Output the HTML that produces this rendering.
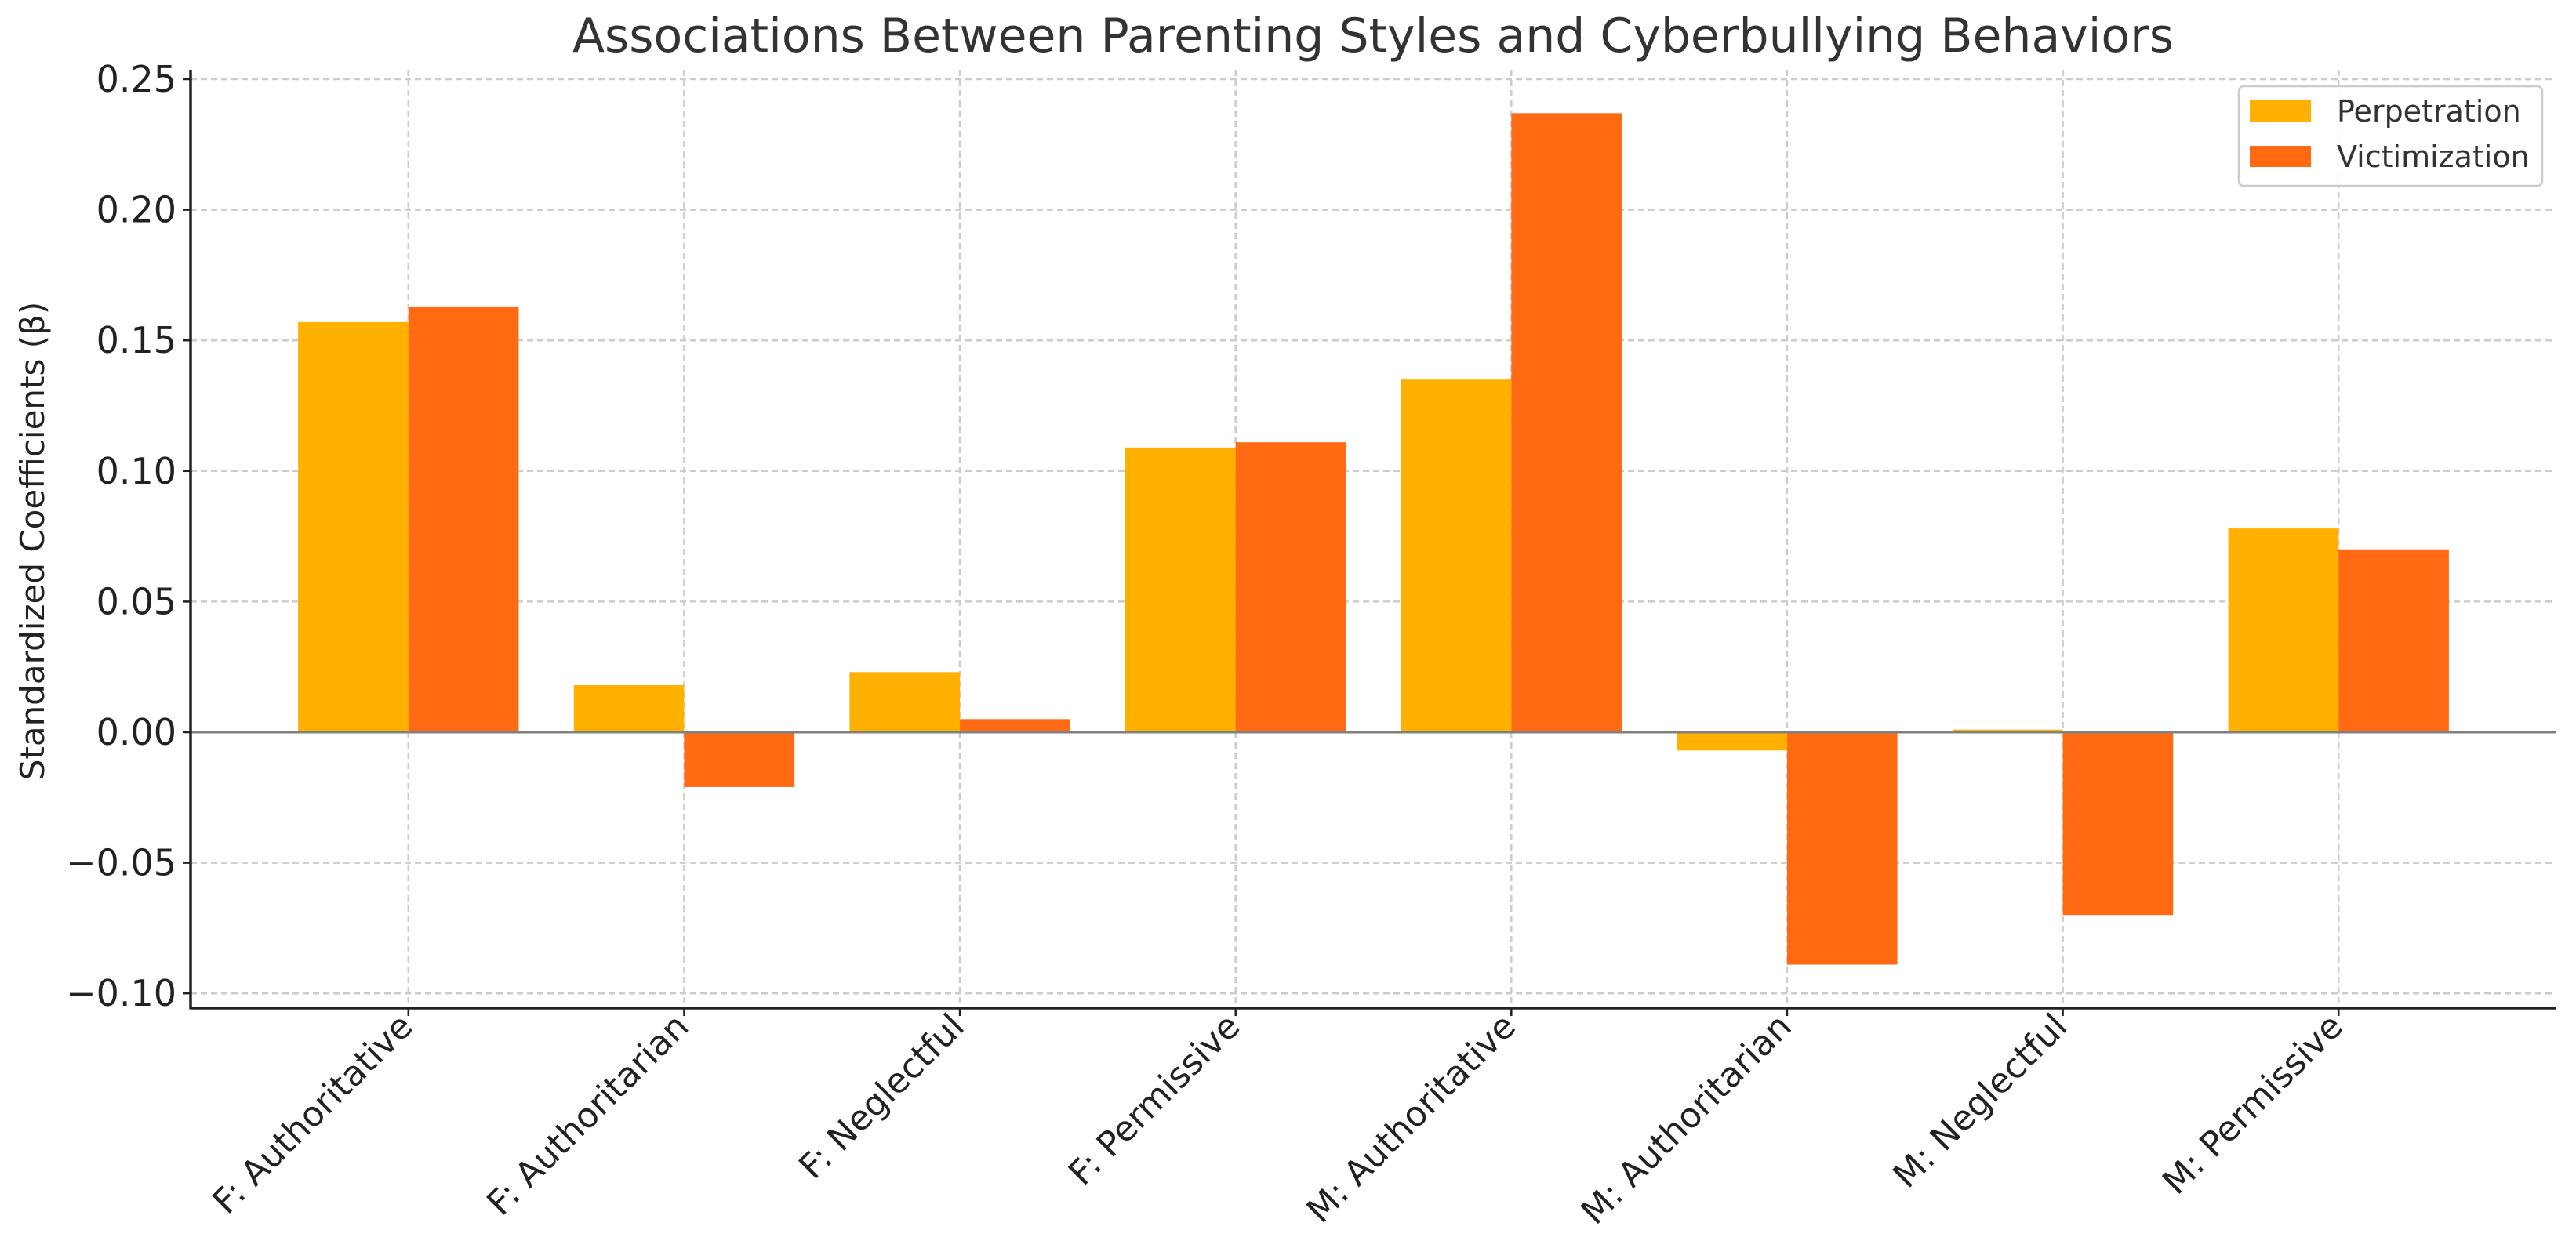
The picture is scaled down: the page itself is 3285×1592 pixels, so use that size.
<!DOCTYPE html>
<html><head><meta charset="utf-8"><style>
html,body{margin:0;padding:0;background:#fff;}
svg{display:block;font-family:"DejaVu Sans","Liberation Sans",sans-serif;}
</style></head>
<body>
<svg id="chart" width="3285" height="1592" viewBox="0 0 3285 1592" xmlns="http://www.w3.org/2000/svg">
<text x="1751" y="66" font-size="60" fill="#333" text-anchor="middle">Associations Between Parenting Styles and Cyberbullying Behaviors</text>
<text transform="translate(56,690) rotate(-90)" font-size="42" fill="#222" text-anchor="middle">Standardized Coefficients (β)</text>
<g id="grid"></g><g id="bars"></g><g id="axes"></g>
<g>
<rect x="2855" y="110" width="387" height="127" rx="6" fill="#fff" fill-opacity="0.85" stroke="#ccc" stroke-width="2.5"/>
<rect x="2869" y="128" width="78" height="27" fill="#FFB000"/>
<text x="2980" y="155" font-size="38" fill="#333">Perpetration</text>
<rect x="2869" y="186" width="78" height="27" fill="#FF6A13"/>
<text x="2980" y="213" font-size="38" fill="#333">Victimization</text>
</g>
</svg>
<script>
const categories = ["F: Authoritative","F: Authoritarian","F: Neglectful","F: Permissive","M: Authoritative","M: Authoritarian","M: Neglectful","M: Permissive"];
const perpetration = [0.157,0.018,0.023,0.109,0.135,-0.007,0.001,0.078];
const victimization = [0.163,-0.021,0.005,0.111,0.237,-0.089,-0.070,0.070];
const yTicks = [-0.10,-0.05,0.00,0.05,0.10,0.15,0.20,0.25];
const yTickLabels = ["\u22120.10","\u22120.05","0.00","0.05","0.10","0.15","0.20","0.25"];

const NS="http://www.w3.org/2000/svg";
const L=243,R=3260,T=89,B=1286;
const xMin=-0.79,xMax=7.79;
const y0px=934, pxPerUnit=166.6/0.05;
function xs(v){return L+(v-xMin)/(xMax-xMin)*(R-L);}
function ys(v){return y0px-v*pxPerUnit;}
function mk(tag,attrs,parent){const e=document.createElementNS(NS,tag);for(const k in attrs)e.setAttribute(k,attrs[k]);parent.appendChild(e);return e;}
const grid=document.getElementById('grid'),bars=document.getElementById('bars'),axes=document.getElementById('axes');

yTicks.forEach((t,i)=>{
  const y=ys(t);
  const g=mk('line',{x1:L,x2:R,y1:y,y2:y,stroke:'#ccc','stroke-width':2.5,'stroke-dasharray':'8,5'},grid);
  
  
  mk('line',{x1:L-10,x2:L,y1:y,y2:y,stroke:'#222','stroke-width':2.5},axes);
  const tx=mk('text',{x:L-18,y:y+16,'font-size':46,fill:'#222','text-anchor':'end'},axes);
  
  
  tx.textContent=yTickLabels[i];
});
categories.forEach((c,i)=>{
  const x=xs(i);
  const g=mk('line',{x1:x,x2:x,y1:T,y2:B,stroke:'#ccc','stroke-width':2.5,'stroke-dasharray':'8,5'},grid);
  
  
  const w=xs(0.4)-xs(0);
  [[perpetration[i],'#FFB000',-1,'bar-perpetration'],[victimization[i],'#FF6A13',0,'bar-victimization']].forEach(([v,col,off,nm])=>{
    const top=Math.min(ys(v),ys(0)),h=Math.abs(ys(v)-ys(0));
    const r=mk('rect',{x:x+off*w,y:top,width:w,height:Math.max(h,0.5),fill:col},bars);
    
    
  });
  mk('line',{x1:x,x2:x,y1:B,y2:B+10,stroke:'#222','stroke-width':2.5},axes);
  const tx=mk('text',{transform:`translate(${x+8},${B+26}) rotate(-45)`,'font-size':44,fill:'#222','text-anchor':'end'},axes);
  
  
  tx.textContent=c;
});
const zl=mk('line',{x1:L,x2:R,y1:ys(0),y2:ys(0),stroke:'#808080','stroke-width':3},axes);


const ya=mk('line',{x1:L,x2:L,y1:T,y2:B+1.5,stroke:'#222','stroke-width':3.5},axes);


const xa=mk('line',{x1:L,x2:R,y1:B,y2:B,stroke:'#222','stroke-width':3.5},axes);


</script>
</body></html>
